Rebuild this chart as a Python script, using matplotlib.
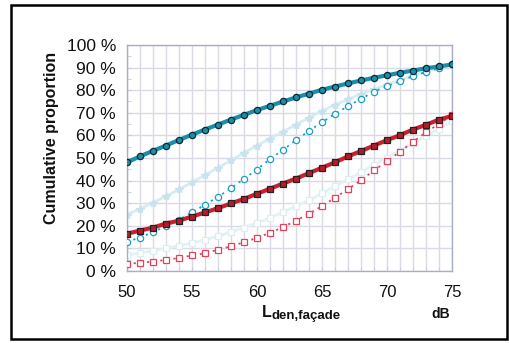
import matplotlib
matplotlib.use("Agg")
import matplotlib.pyplot as plt
from matplotlib.patches import Rectangle

plt.rcParams['font.family'] = ['Liberation Sans', 'DejaVu Sans']

db = list(range(50, 76))
x_ticks = [50, 55, 60, 65, 70, 75]
y_ticks = [0, 10, 20, 30, 40, 50, 60, 70, 80, 90, 100]
y_tick_labels = ["0 %", "10 %", "20 %", "30 %", "40 %", "50 %", "60 %", "70 %", "80 %", "90 %", "100 %"]

teal_solid = [48.1, 50.7, 53.2, 55.5, 58.0, 60.3, 62.6, 64.8, 67.0, 69.1, 71.2, 73.1, 75.0,
              76.8, 78.5, 80.2, 81.6, 83.0, 84.3, 85.5, 86.6, 87.7, 88.7, 89.7, 90.5, 91.4]
pale_star = [25.0, 27.5, 30.3, 33.1, 36.1, 39.3, 42.4, 45.7, 49.0, 52.3, 55.5, 58.6, 61.7,
             64.8, 67.8, 70.9, 73.5, 76.0, 78.3, 80.5, 82.5, 84.5, 86.5, 88.2, 89.8, 91.3]
cyan_dotted = [12.9, 14.8, 17.2, 19.8, 22.7, 26.0, 29.3, 32.8, 36.6, 40.8, 44.9, 49.5, 53.6,
               57.9, 62.0, 65.8, 69.6, 72.9, 76.2, 79.3, 81.8, 84.0, 86.2, 88.1, 89.7, 91.4]
red_solid = [16.5, 17.9, 19.2, 21.0, 22.3, 24.1, 25.9, 27.8, 29.9, 31.9, 34.2, 36.4, 38.7,
             40.9, 43.3, 45.7, 48.1, 50.7, 53.1, 55.5, 57.9, 60.1, 62.6, 64.7, 67.0, 68.6]
pale_square = [6.9, 8.0, 8.9, 10.0, 11.2, 12.3, 13.9, 15.4, 17.3, 19.2, 21.3, 23.5, 26.0,
               28.7, 31.3, 34.4, 37.5, 40.6, 43.7, 47.0, 50.2, 53.3, 56.5, 59.8, 63.0, 66.2]
pink_dotted = [3.2, 3.6, 4.2, 4.9, 5.8, 6.9, 7.9, 9.4, 11.0, 12.7, 14.7, 16.9, 19.4,
               22.3, 25.4, 28.7, 32.4, 36.2, 40.2, 44.5, 48.6, 52.8, 57.2, 61.4, 65.1, 68.9]

W, H = 510, 343
fig = plt.figure(figsize=(W / 100, H / 100), dpi=100)
ax = fig.add_axes([127 / W, 1 - 271 / H, (452 - 127) / W, (271 - 45) / H])

# faint series
ax.plot(db, pale_square, color='#E2F2F5', lw=2.0, marker='s', ms=4.3, mfc='white',
        mec='#DCEEF2', mew=0.9, zorder=2)
ax.plot(db, pale_star, color='#D6ECF3', lw=2.0, marker='*', ms=6, mfc='#C8E3EE',
        mec='#C8E3EE', zorder=2)
# dotted series
ax.plot(db, pink_dotted, color='#E8405A', lw=1.3, ls=(0, (1.2, 2.5)), marker='s', ms=4.3,
        mfc='white', mec='#E8405A', mew=0.9, zorder=3)
ax.plot(db, cyan_dotted, color='#1AA0C8', lw=1.3, ls=(0, (1.2, 2.5)), marker='o', ms=4.5,
        mfc='white', mec='#1AA0C8', mew=0.9, zorder=3)
# solid thick series
ax.plot(db, red_solid, color='#C8202E', lw=3.0, marker='s', ms=4.5, mfc='#B81A2A',
        mec='#222222', mew=0.9, zorder=4)
ax.plot(db, teal_solid, color='#1A8EAA', lw=3.0, marker='o', ms=4.5, mfc='#1A8EAA',
        mec='#0A2A36', mew=0.9, zorder=5)

ax.set_xlim(50, 75)
ax.set_ylim(0, 100)
ax.set_xticks(x_ticks)
ax.set_xticks(db, minor=True)
ax.set_yticks(y_ticks)
ax.set_yticks(list(range(0, 101, 5)), minor=True)
ax.set_yticklabels(y_tick_labels)
ax.grid(True, which='major', color='#DADAE6', lw=1.0)
ax.grid(True, which='minor', axis='x', color='#DADAE6', lw=1.0)
ax.set_axisbelow(True)
for s in ax.spines.values():
    s.set_color('#A8AEC4')
    s.set_linewidth(1.0)
ax.tick_params(axis='both', which='both', length=3, color='#C8CCD8', labelsize=12.5,
               labelcolor='#111111')
ax.tick_params(axis='x', which='both', direction='in', pad=10, labelsize=12)
ax.tick_params(axis='y', which='both', direction='in', pad=8)

fig.text(52 / W, 1 - 138 / H, 'Cumulative proportion', rotation=90, ha='center', va='center',
         fontsize=11.5, fontweight='bold', color='#111111')
fig.text(262 / W, 1 - 317 / H, 'L', ha='left', va='baseline', fontsize=11.5,
         fontweight='bold', color='#111111')
fig.text(272 / W, 1 - 319 / H, 'den,façade', ha='left', va='baseline', fontsize=9.5,
         fontweight='bold', color='#111111')
fig.text(441 / W, 1 - 318 / H, 'dB', ha='center', va='baseline', fontsize=10,
         fontweight='bold', color='#111111')

fig.patches.append(Rectangle((11 / W, 4 / H), (507 - 11) / W, (338 - 4) / H,
                             transform=fig.transFigure, fill=False, ec='black', lw=1.8))

fig.savefig('out.png', dpi=100)
